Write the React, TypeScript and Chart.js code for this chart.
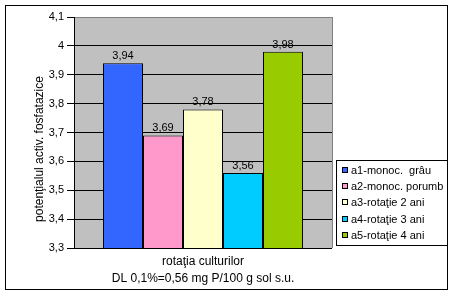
import { useEffect, useRef } from "react";
import { Chart, registerables } from "chart.js";

Chart.register(...registerables);

const categories = [""];
const seriesLabels = [
  "a1-monoc.  grâu",
  "a2-monoc. porumb",
  "a3-rotaţie 2 ani",
  "a4-rotaţie 3 ani",
  "a5-rotaţie 4 ani",
];
const seriesValues = [3.94, 3.69, 3.78, 3.56, 3.98];
const seriesColors = ["#3366FF", "#FF99CC", "#FFFFCC", "#00CCFF", "#99CC00"];
const yMin = 3.3;
const yMax = 4.1;
const yStep = 0.1;
const xTitle = ["rotaţia culturilor", "DL 0,1%=0,56 mg P/100 g sol s.u."];
const yTitle = "potenţialul activ. fosfatazice";

const FONT = "Arial, 'Liberation Sans', sans-serif";

const fmt = (v: number) => String(Math.round(v * 100) / 100).replace(".", ",");

const decorPlugin = {
  id: "decor",
  beforeDraw(chart: any) {
    const { ctx, chartArea: a } = chart;
    ctx.save();
    ctx.fillStyle = "#ffffff";
    ctx.fillRect(0, 0, chart.width, chart.height);
    ctx.fillStyle = "#C0C0C0";
    ctx.fillRect(a.left, a.top, a.right - a.left, a.bottom - a.top);
    ctx.strokeStyle = "#808080";
    ctx.lineWidth = 1;
    ctx.beginPath();
    ctx.moveTo(a.right + 0.5, a.top);
    ctx.lineTo(a.right + 0.5, a.bottom);
    ctx.stroke();
    ctx.strokeStyle = "#000000";
    ctx.strokeRect(5.5, 5.5, 442, 284);
    ctx.restore();
  },
  afterDraw(chart: any) {
    const { ctx, chartArea: a } = chart;
    ctx.save();
    // value labels
    ctx.font = `11px ${FONT}`;
    ctx.fillStyle = "#000000";
    ctx.textAlign = "center";
    ctx.textBaseline = "middle";
    chart.data.datasets.forEach((ds: any, i: number) => {
      const meta = chart.getDatasetMeta(i);
      meta.data.forEach((el: any, j: number) => {
        ctx.fillText(fmt(ds.data[j]), el.x, el.y - 7);
      });
    });
    // y title
    ctx.save();
    ctx.translate(40, 149);
    ctx.rotate(-Math.PI / 2);
    ctx.font = `12px ${FONT}`;
    ctx.fillText(yTitle, 0, 0);
    ctx.restore();
    // legend
    const lx = 336, ly = 160, lw = 111, lh = 85;
    ctx.fillStyle = "#ffffff";
    ctx.fillRect(lx, ly, lw, lh);
    ctx.strokeStyle = "#000000";
    ctx.lineWidth = 1;
    ctx.strokeRect(lx + 0.5, ly + 0.5, lw, lh);
    ctx.textAlign = "left";
    ctx.font = `11px ${FONT}`;
    chart.data.datasets.forEach((ds: any, i: number) => {
      const yc = Math.round(169.5 + i * 16.4);
      ctx.fillStyle = ds.backgroundColor;
      ctx.fillRect(342, yc - 3, 6, 6);
      ctx.strokeStyle = "#000000";
      ctx.strokeRect(342.5, yc - 2.5, 5, 5);
      ctx.fillStyle = "#000000";
      ctx.fillText(ds.label, 351, yc + 0.5);
    });
    ctx.restore();
  },
};

export default function App() {
  const ref = useRef<HTMLCanvasElement | null>(null);
  useEffect(() => {
    if (!ref.current) return;
    const chart = new Chart(ref.current, {
      type: "bar",
      data: {
        labels: categories,
        datasets: seriesLabels.map((label, i) => ({
          label,
          data: [seriesValues[i]],
          backgroundColor: seriesColors[i],
          borderColor: "#000000",
          borderWidth: 1,
          categoryPercentage: 0.775,
          barPercentage: 1,
        })),
      },
      options: {
        responsive: false,
        animation: false,
        devicePixelRatio: 1,
        layout: { padding: { left: 0, top: 17, right: 122, bottom: 0 } },
        plugins: {
          legend: { display: false },
          tooltip: { enabled: false },
        },
        scales: {
          x: {
            type: "category",
            ticks: { display: false },
            grid: { display: false },
            border: { display: false },
            title: {
              display: true,
              text: xTitle,
              color: "#000000",
              font: { family: FONT, size: 12, lineHeight: "17px" },
              padding: { top: 0, bottom: 8.5 },
            },
            afterFit: (s: any) => {
              s.height = 48;
            },
          },
          y: {
            min: yMin,
            max: yMax,
            ticks: {
              stepSize: yStep,
              color: "#000000",
              padding: 3,
              font: { family: FONT, size: 11 },
              callback: (v: any) => String(Math.round(Number(v) * 10) / 10).replace(".", ","),
            },
            grid: {
              color: (c: any) =>
                c.tick && c.tick.value > yMax - 1e-6 ? "#808080" : "#000000",
              tickColor: "#000000",
              tickLength: 7,
              lineWidth: 1,
            },
            border: { display: true, color: "#000000", width: 1 },
            afterFit: (s: any) => {
              s.width = 74;
            },
          },
        },
      },
      plugins: [decorPlugin],
    });
    return () => chart.destroy();
  }, []);
  return (
    <div style={{ position: "absolute", left: 0, top: 0, width: 454, height: 296 }}>
      <canvas ref={ref} width={454} height={296} style={{ width: 454, height: 296, display: "block" }} />
    </div>
  );
}
